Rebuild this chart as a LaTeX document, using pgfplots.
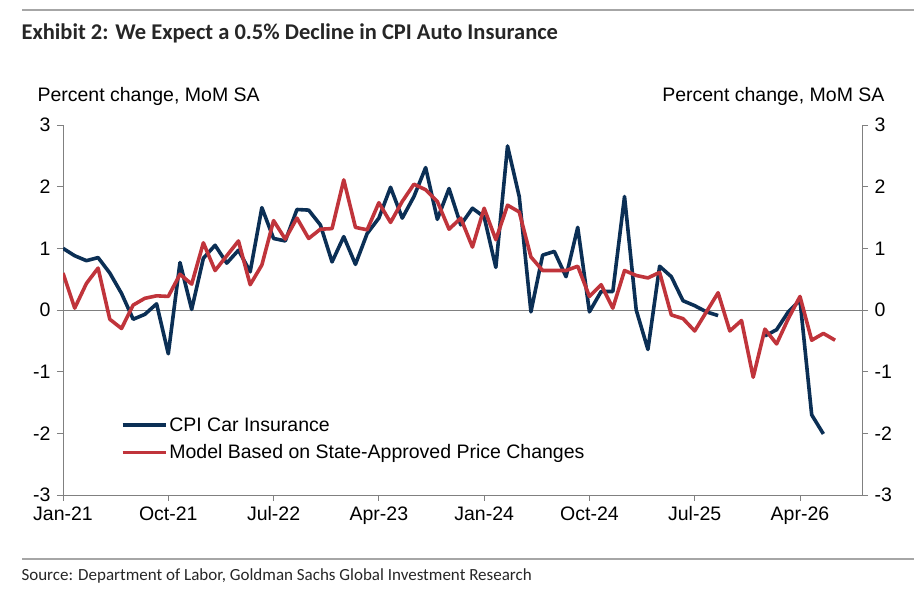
\documentclass[border=0pt]{standalone}
\usepackage{pgfplots}
\pgfplotsset{compat=1.18}
\usepackage{fontspec}
\setmainfont{Liberation Sans}
\newfontfamily\carlito{Carlito}
\definecolor{navy}{HTML}{0B2F55}
\definecolor{gsred}{HTML}{C0343B}
\begin{document}
\begin{tikzpicture}
\useasboundingbox (0pt,0pt) rectangle (914pt,592pt);
\draw[gray!70, line width=1.2pt] (22pt,582pt) -- (914pt,582pt);
\node[anchor=west, font=\carlito\bfseries\fontsize{22.5}{26}\selectfont, text=black!85] at (18pt,559pt) {Exhibit 2: We Expect a 0.5\% Decline in CPI Auto Insurance};
\node[anchor=west, font=\fontsize{19.5}{22}\selectfont] at (34pt,496pt) {Percent change, MoM SA};
\node[anchor=east, font=\fontsize{19.5}{22}\selectfont] at (888pt,496pt) {Percent change, MoM SA};
\draw[gray!70, line width=1.2pt] (22pt,33pt) -- (914pt,33pt);
\node[anchor=west, font=\carlito\fontsize{17}{20}\selectfont, text=black!85] at (18pt,16pt) {Source: Department of Labor, Goldman Sachs Global Investment Research};
\begin{axis}[
  at={(63pt,97pt)}, anchor=south west, scale only axis, width=799pt, height=370pt,
  xmin=0, xmax=68.3, ymin=-3, ymax=3,
  axis x line*=bottom, axis y line*=left,
  axis line style={gray, line width=0.8pt},
  xtick={0,9,18,27,36,45,54,63},
  xticklabels={Jan-21,Oct-21,Jul-22,Apr-23,Jan-24,Oct-24,Jul-25,Apr-26},
  ytick={-3,-2,-1,0,1,2,3},
  tick style={gray, line width=0.8pt},
  major tick length=6pt, tick align=outside,
  ticklabel style={font=\fontsize{19.5}{22}\selectfont},
  /pgf/number format/assume math mode=true,
  yticklabel style={xshift=-3pt},
  xticklabel style={yshift=-2pt},
  unbounded coords=jump,
  legend style={at={(0.072,0.215)}, anchor=north west, draw=none, fill=none,
    font=\fontsize{19.5}{22}\selectfont, row sep=8pt, inner sep=0pt},
  legend cell align=left,
  legend image code/.code={\draw[#1] (0pt,0pt) -- (43pt,0pt);},
]
\draw[gray, line width=0.8pt] (axis cs:0,0) -- (axis cs:68.3,0);
\addplot[navy, line width=3.6pt, line join=round] coordinates {
(0,1.0)(1,0.88)(2,0.8)(3,0.85)(4,0.6)(5,0.27)(6,-0.15)(7,-0.07)(8,0.1)(9,-0.71)
(10,0.77)(11,0.01)(12,0.84)(13,1.05)(14,0.76)(15,0.97)(16,0.62)(17,1.66)(18,1.16)(19,1.12)
(20,1.63)(21,1.62)(22,1.38)(23,0.78)(24,1.19)(25,0.74)(26,1.24)(27,1.49)(28,1.99)(29,1.49)
(30,1.84)(31,2.31)(32,1.47)(33,1.97)(34,1.38)(35,1.65)(36,1.51)(37,0.69)(38,2.66)(39,1.84)
(40,-0.03)(41,0.89)(42,0.95)(43,0.54)(44,1.34)(45,-0.03)(46,0.3)(47,0.3)(48,1.84)(49,0.0)
(50,-0.64)(51,0.71)(52,0.54)(53,0.15)(54,0.07)(55,-0.03)(56,-0.09)(57,nan)(58,nan)(59,nan)
(60,-0.42)(61,-0.32)(62,-0.03)(63,0.16)(64,-1.70)(65,-2.01)};
\addlegendentry{CPI Car Insurance}
\addplot[gsred, line width=3.6pt, line join=round] coordinates {
(0,0.6)(1,0.03)(2,0.43)(3,0.68)(4,-0.15)(5,-0.3)(6,0.08)(7,0.19)(8,0.23)(9,0.22)
(10,0.58)(11,0.42)(12,1.09)(13,0.64)(14,0.88)(15,1.12)(16,0.41)(17,0.73)(18,1.45)(19,1.15)
(20,1.49)(21,1.16)(22,1.31)(23,1.32)(24,2.11)(25,1.34)(26,1.3)(27,1.74)(28,1.42)(29,1.76)
(30,2.04)(31,1.95)(32,1.76)(33,1.31)(34,1.49)(35,1.02)(36,1.65)(37,1.14)(38,1.70)(39,1.59)
(40,0.86)(41,0.64)(42,0.64)(43,0.64)(44,0.71)(45,0.22)(46,0.41)(47,0.03)(48,0.64)(49,0.56)
(50,0.52)(51,0.61)(52,-0.08)(53,-0.14)(54,-0.34)(55,-0.03)(56,0.28)(57,-0.34)(58,-0.17)(59,-1.09)
(60,-0.31)(61,-0.55)(62,-0.14)(63,0.22)(64,-0.49)(65,-0.38)(66,-0.49)};
\addlegendentry{Model Based on State-Approved Price Changes}
\end{axis}
\begin{axis}[
  at={(63pt,97pt)}, anchor=south west, scale only axis, width=799pt, height=370pt,
  xmin=0, xmax=68.3, ymin=-3, ymax=3,
  axis x line=none, axis y line*=right,
  axis line style={gray, line width=0.8pt},
  ytick={-3,-2,-1,0,1,2,3},
  tick style={gray, line width=0.8pt},
  major tick length=6pt, tick align=outside,
  ticklabel style={font=\fontsize{19.5}{22}\selectfont},
  /pgf/number format/assume math mode=true,
  yticklabel style={xshift=3pt},
]
\end{axis}
\end{tikzpicture}
\end{document}
